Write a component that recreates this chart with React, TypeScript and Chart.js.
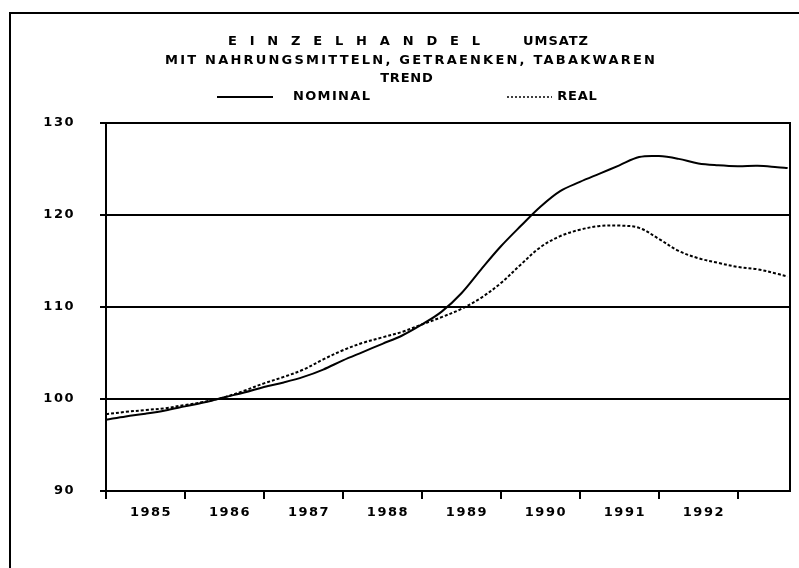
import React, { useEffect, useRef } from "react";
import { Chart, registerables } from "chart.js";

Chart.register(...registerables);

const TITLE_SPACED = "E I N Z E L H A N D E L";
const TITLE_WORD = "UMSATZ";
const SUBTITLE = "MIT NAHRUNGSMITTELN, GETRAENKEN, TABAKWAREN";
const SUBTITLE2 = "TREND";
const SERIES_NAMES = ["NOMINAL", "REAL"];

const TIME = [
  1985.0, 1985.25, 1985.5, 1985.75, 1986.0, 1986.25, 1986.5, 1986.75,
  1987.0, 1987.25, 1987.5, 1987.75, 1988.0, 1988.25, 1988.5, 1988.75,
  1989.0, 1989.25, 1989.5, 1989.75, 1990.0, 1990.25, 1990.5, 1990.75,
  1991.0, 1991.25, 1991.5, 1991.75, 1992.0, 1992.25, 1992.5, 1992.75,
  1993.0, 1993.25, 1993.5, 1993.63,
];

const NOMINAL = [
  97.75, 98.1, 98.4, 98.75, 99.2, 99.65, 100.2, 100.7,
  101.3, 101.8, 102.4, 103.2, 104.2, 105.1, 106.0, 106.9,
  108.1, 109.5, 111.5, 114.1, 116.6, 118.8, 120.9, 122.6,
  123.6, 124.5, 125.4, 126.3, 126.4, 126.1, 125.6, 125.4,
  125.3, 125.35, 125.2, 125.1,
];

const REAL = [
  98.35, 98.6, 98.8, 99.0, 99.35, 99.7, 100.2, 100.9,
  101.7, 102.4, 103.2, 104.3, 105.3, 106.1, 106.7, 107.3,
  108.1, 108.9, 109.8, 111.0, 112.6, 114.6, 116.5, 117.7,
  118.4, 118.8, 118.85, 118.6, 117.4, 116.1, 115.3, 114.8,
  114.35, 114.1, 113.6, 113.3,
];

const TICK_YEARS = [1985, 1986, 1987, 1988, 1989, 1990, 1991, 1992, 1993];
const YEAR_LABELS = ["1985", "1986", "1987", "1988", "1989", "1990", "1991", "1992"];
const X_MIN = 1985;
const X_MAX = 1993.66;
const Y_TICKS = [90, 100, 110, 120, 130];

const FONT = "'DejaVu Sans', sans-serif";

function drawFit(ctx: CanvasRenderingContext2D, text: string, x0: number, x1: number, y: number) {
  (ctx as any).letterSpacing = "0px";
  const w = ctx.measureText(text).width;
  const n = text.length;
  let ls = n > 1 ? (x1 - x0 - w) / (n - 1) : 0;
  if (ls < 0.8) ls = 0.8;
  const total = w + ls * (n - 1);
  const start = (x0 + x1) / 2 - total / 2;
  (ctx as any).letterSpacing = ls + "px";
  ctx.textAlign = "left";
  ctx.textBaseline = "middle";
  ctx.fillText(text, start, y);
  (ctx as any).letterSpacing = "0px";
}

const decorPlugin = {
  id: "decor",
  beforeDraw(chart: any) {
    (chart.ctx as any).letterSpacing = "1.5px";
  },
  afterDraw(chart: any) {
    const ctx: CanvasRenderingContext2D = chart.ctx;
    const a = chart.chartArea;
    ctx.save();
    (ctx as any).letterSpacing = "0px";
    ctx.strokeStyle = "#000";
    ctx.lineWidth = 2;
    ctx.setLineDash([]);
    ctx.strokeRect(a.left, a.top, a.right - a.left, a.bottom - a.top);
    ctx.beginPath();
    ctx.moveTo(10, 568);
    ctx.lineTo(10, 13);
    ctx.lineTo(799, 13);
    ctx.stroke();

    ctx.fillStyle = "#000";
    ctx.font = `bold 13px ${FONT}`;
    drawFit(ctx, TITLE_SPACED, 228, 480, 42);
    drawFit(ctx, TITLE_WORD, 523, 588, 42);
    drawFit(ctx, SUBTITLE, 165, 655, 61);
    drawFit(ctx, SUBTITLE2, 382, 431, 79);

    ctx.lineWidth = 2;
    ctx.beginPath();
    ctx.moveTo(217, 97);
    ctx.lineTo(273, 97);
    ctx.stroke();
    drawFit(ctx, SERIES_NAMES[0], 293, 370, 97);
    ctx.lineWidth = 1.5;
    ctx.setLineDash([2, 2]);
    ctx.beginPath();
    ctx.moveTo(507, 97);
    ctx.lineTo(552, 97);
    ctx.stroke();
    ctx.setLineDash([]);
    drawFit(ctx, SERIES_NAMES[1], 560, 594, 97);
    ctx.restore();
  },
};

export default function App() {
  const ref = useRef<HTMLCanvasElement>(null);
  useEffect(() => {
    if (!ref.current) return;
    const chart = new Chart(ref.current, {
      type: "line",
      data: {
        datasets: [
          {
            label: SERIES_NAMES[0],
            data: TIME.map((t, i) => ({ x: t, y: NOMINAL[i] })),
            borderColor: "#000",
            borderWidth: 2,
            pointRadius: 0,
            tension: 0.35,
            fill: false,
          },
          {
            label: SERIES_NAMES[1],
            data: TIME.map((t, i) => ({ x: t, y: REAL[i] })),
            borderColor: "#000",
            borderWidth: 2,
            borderDash: [3, 2],
            pointRadius: 0,
            tension: 0.35,
            fill: false,
          },
        ],
      },
      options: {
        responsive: false,
        animation: false,
        events: [],
        layout: { padding: { top: 123, right: 9, left: 0, bottom: 0 } },
        plugins: {
          legend: { display: false },
          title: { display: false },
          tooltip: { enabled: false },
        },
        scales: {
          x: {
            type: "linear",
            min: X_MIN,
            max: X_MAX,
            afterBuildTicks: (scale: any) => {
              scale.ticks = TICK_YEARS.map((v) => ({ value: v }));
            },
            afterFit: (scale: any) => {
              scale.height = 77;
            },
            grid: {
              display: true,
              drawOnChartArea: false,
              drawTicks: true,
              tickLength: 8,
              color: "#000",
              lineWidth: 2,
            },
            border: { display: true, color: "#000", width: 2 },
            ticks: {
              autoSkip: false,
              maxRotation: 0,
              labelOffset: 45,
              padding: 6,
              color: "#000",
              font: { family: FONT, size: 13, weight: "bold" },
              callback: (_v: any, i: number) => (i < YEAR_LABELS.length ? YEAR_LABELS[i] : ""),
            },
          },
          y: {
            type: "linear",
            min: 90,
            max: 130,
            afterBuildTicks: (scale: any) => {
              scale.ticks = Y_TICKS.map((v) => ({ value: v }));
            },
            afterFit: (scale: any) => {
              scale.width = 106;
            },
            grid: {
              display: true,
              drawOnChartArea: true,
              drawTicks: true,
              tickLength: 6,
              color: "#000",
              lineWidth: 2,
            },
            border: { display: true, color: "#000", width: 2 },
            ticks: {
              padding: 25,
              color: "#000",
              font: { family: FONT, size: 13, weight: "bold" },
            },
          },
        },
      },
      plugins: [decorPlugin],
    } as any);
    return () => chart.destroy();
  }, []);
  return (
    <div style={{ position: "absolute", left: 0, top: 0, width: 799, height: 568, background: "#fff" }}>
      <canvas ref={ref} width={799} height={568} style={{ display: "block" }} />
    </div>
  );
}
